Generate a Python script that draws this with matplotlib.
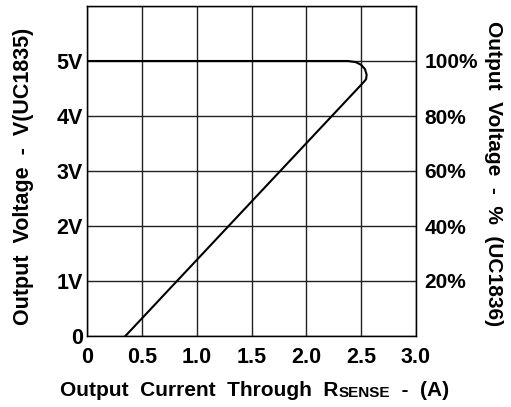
import matplotlib.pyplot as plt

plt.rcParams['font.family'] = ['Liberation Sans', 'DejaVu Sans']
plt.rcParams['font.weight'] = 'bold'
plt.rcParams['axes.labelweight'] = 'bold'

# curve: flat at 5V, rounded knee, then fold-back line to 0
current = [0.0, 2.38, 2.45, 2.50, 2.535, 2.55, 2.545, 2.52, 0.35]
voltage = [5.0, 5.0, 4.98, 4.93, 4.85, 4.75, 4.67, 4.61, 0.0]

x_ticks = [0, 0.5, 1.0, 1.5, 2.0, 2.5, 3.0]
x_labels = ["0", "0.5", "1.0", "1.5", "2.0", "2.5", "3.0"]
y_ticks = [0, 1, 2, 3, 4, 5, 6]
y_labels = ["0", "1V", "2V", "3V", "4V", "5V", ""]
pct_ticks = [1, 2, 3, 4, 5]
pct_labels = ["20%", "40%", "60%", "80%", "100%"]

fig = plt.figure(figsize=(5.11, 4.07), dpi=100)
ax = fig.add_axes([87 / 511, 71 / 407, 329 / 511, 330 / 407])

ax.plot(current, voltage, color="black", lw=1.5)
ax.set_xlim(0, 3.0)
ax.set_ylim(0, 6)
ax.set_xticks(x_ticks)
ax.set_xticklabels(x_labels)
ax.set_yticks(y_ticks)
ax.set_yticklabels(y_labels)
ax.grid(True, color="#222222", lw=1)
ax.tick_params(length=0, labelsize=15.5)
ax.tick_params(axis="y", pad=3)
ax.tick_params(axis="x", pad=8)
for s in ax.spines.values():
    s.set_linewidth(1)

ax2 = ax.twinx()
ax2.set_ylim(0, 6)
ax2.set_yticks(pct_ticks)
ax2.set_yticklabels(pct_labels)
ax2.tick_params(length=0, labelsize=15, pad=6)

fig.text(24 / 511, 1 - 176 / 407, "Output  Voltage  -  V(UC1835)",
         fontsize=15.5, rotation=90, ha="center", va="center")
fig.text(493 / 511, 1 - 174 / 407, "Output  Voltage  -  %  (UC1836)",
         fontsize=15, rotation=-90, ha="center", va="center")

# x label with small-caps SENSE
t1 = fig.text(60 / 511, 0.027, "Output  Current  Through  R", fontsize=15,
              va="baseline")
t2 = ax.annotate("SENSE", xy=(1, 0), xycoords=t1, fontsize=11,
                 va="bottom", ha="left")
t3 = ax.annotate("  -  (A)", xy=(1, 0), xycoords=t2, fontsize=15,
                 va="bottom", ha="left")

fig.savefig("out.png", dpi=100)
plt.close()
